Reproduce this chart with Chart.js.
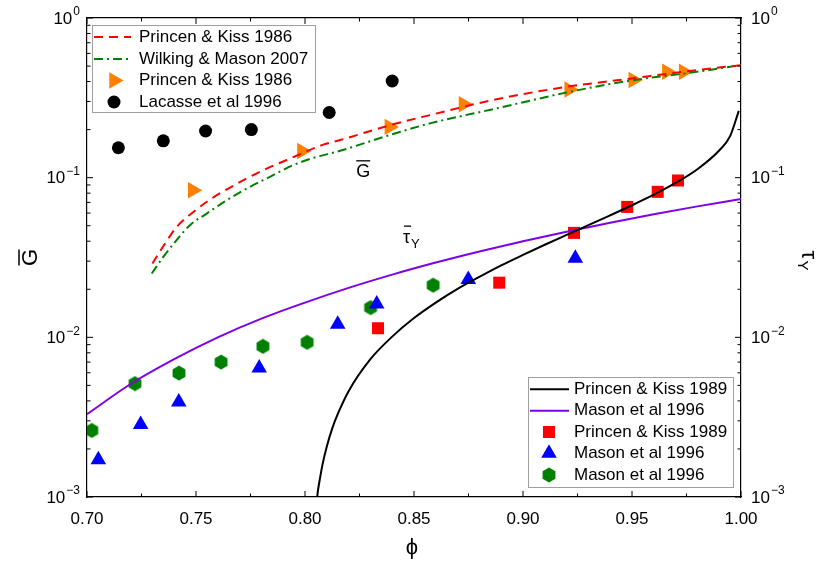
<!DOCTYPE html>
<html>
<head>
<meta charset="utf-8">
<title>G and tau_y vs phi</title>
<script src="https://cdn.jsdelivr.net/npm/chart.js@4"></script>
<style>
  html, body { margin: 0; padding: 0; background: #fff; }
</style>
</head>
<body>
<canvas id="chart" width="817" height="564"></canvas>
<script>
const FONT = '"Liberation Sans", Arial, sans-serif';

// theory curves, modulus G
const pk86Phi = [0.7300, 0.7358, 0.7411, 0.7488, 0.7572, 0.7648, 0.7733, 0.7824, 0.7916, 0.8084, 0.8161, 0.8400, 0.8573, 0.8879, 0.9185, 0.9491, 0.9797, 1.0];
const pk86G   = [0.0290, 0.0387, 0.0491, 0.0610, 0.0741, 0.0855, 0.0989, 0.1140, 0.1290, 0.1610, 0.1720, 0.2150, 0.2465, 0.3100, 0.3680, 0.4170, 0.4720, 0.507];
const wm07Phi = [0.7297, 0.7350, 0.7411, 0.7472, 0.7549, 0.7641, 0.7733, 0.7839, 0.7946, 0.8054, 0.8145, 0.8400, 0.8573, 0.8879, 0.9215, 0.9491, 0.9797, 1.0];
const wm07G   = [0.0251, 0.0319, 0.0406, 0.0504, 0.0596, 0.0722, 0.0855, 0.1012, 0.1198, 0.1350, 0.1452, 0.1870, 0.2187, 0.2716, 0.3450, 0.4050, 0.4600, 0.507];

// theory curves, yield stress tau_y
const pk89Phi = [0.8054, 0.806, 0.807, 0.808, 0.810, 0.8125, 0.815, 0.820, 0.830, 0.840, 0.850, 0.860, 0.870, 0.880, 0.890, 0.900, 0.910, 0.920, 0.930, 0.940, 0.950, 0.960, 0.970, 0.980, 0.990, 0.995, 0.999];
const pk89Tau = [0.00095, 0.00111, 0.00134, 0.00159, 0.00207, 0.00269, 0.0033, 0.0046, 0.0073, 0.0101, 0.0132, 0.0165, 0.0201, 0.0239, 0.0282, 0.0328, 0.0380, 0.0438, 0.0504, 0.0581, 0.0672, 0.0783, 0.0927, 0.113, 0.148, 0.182, 0.262];
const mason96Phi = [0.70, 0.72, 0.74, 0.76, 0.78, 0.80, 0.82, 0.84, 0.86, 0.88, 0.90, 0.92, 0.94, 0.96, 0.98, 1.00];
const mason96Tau = [0.0033, 0.0051, 0.0073, 0.0100, 0.0131, 0.0165, 0.0204, 0.0247, 0.0294, 0.0345, 0.0400, 0.0459, 0.0522, 0.0590, 0.0661, 0.0736];

// measured G
const pk86DataPhi = [0.7485, 0.7986, 0.8387, 0.8727, 0.9212, 0.9506, 0.9660, 0.9737];
const pk86DataG   = [0.0835, 0.147, 0.208, 0.288, 0.357, 0.409, 0.461, 0.461];
const lacassePhi = [0.7144, 0.7350, 0.7544, 0.7754, 0.8111, 0.8400];
const lacasseG   = [0.154, 0.170, 0.196, 0.200, 0.256, 0.403];

// measured tau_y
const pk89DataPhi = [0.8335, 0.8891, 0.9234, 0.9478, 0.9618, 0.9711];
const pk89DataTau = [0.0114, 0.0220, 0.0451, 0.0656, 0.0815, 0.0960];
const masonTriPhi = [0.7052, 0.7246, 0.7421, 0.7790, 0.8150, 0.8329, 0.8749, 0.9240];
const masonTriTau = [0.00171, 0.00284, 0.00393, 0.00642, 0.01207, 0.01617, 0.0230, 0.0313];
const masonHexPhi = [0.7022, 0.7220, 0.7422, 0.7615, 0.7807, 0.8010, 0.8301, 0.8588];
const masonHexTau = [0.00261, 0.00513, 0.00597, 0.00700, 0.00878, 0.00930, 0.01536, 0.0212];

// ticks
const xMajor = [0.70, 0.75, 0.80, 0.85, 0.90, 0.95, 1.00];
const xMinor = [0.725, 0.775, 0.825, 0.875, 0.925, 0.975];
const yDecades = [0, -1, -2, -3];
const yMinorMult = [2, 3, 4, 5, 6, 7, 8, 9];

const pts = (xs, ys) => xs.map((x, i) => ({ x: x, y: ys[i] }));

// hexagon marker (no built-in style for it)
function hexagon(color) {
  const c = document.createElement('canvas');
  c.width = 16; c.height = 16;
  const g = c.getContext('2d');
  g.fillStyle = color;
  g.beginPath();
  for (let k = 0; k < 6; k++) {
    const a = Math.PI / 2 + k * Math.PI / 3;
    const px = 8 + 7.4 * Math.cos(a), py = 8 - 7.6 * Math.sin(a);
    if (k === 0) g.moveTo(px, py); else g.lineTo(px, py);
  }
  g.closePath();
  g.fill();
  return c;
}

function curve(label, data, color, dash) {
  return { label, data, showLine: true, borderColor: color, backgroundColor: color,
    borderWidth: 2, borderDash: dash, pointRadius: 0, pointHoverRadius: 0, clip: 0,
    cubicInterpolationMode: 'monotone' };
}
function marks(label, data, color, style, radius, rotation) {
  return { label, data, showLine: false, backgroundColor: color, borderColor: color,
    pointStyle: style, pointRadius: radius, pointHoverRadius: radius, pointRotation: rotation || 0,
    pointBorderWidth: 0 };
}

const datasets = [
  curve('Princen & Kiss 1986', pts(pk86Phi, pk86G), '#ff0000', [9, 6]),
  curve('Wilking & Mason 2007', pts(wm07Phi, wm07G), '#008000', [9, 4, 2, 4]),
  marks('Princen & Kiss 1986', pts(pk86DataPhi, pk86DataG), '#ff8000', 'triangle', 9.5, 90),
  marks('Lacasse et al 1996', pts(lacassePhi, lacasseG), '#000000', 'circle', 6.5),
  curve('Princen & Kiss 1989', pts(pk89Phi, pk89Tau), '#000000', []),
  curve('Mason et al 1996', pts(mason96Phi, mason96Tau), '#7f00e6', []),
  marks('Princen & Kiss 1989', pts(pk89DataPhi, pk89DataTau), '#ff0000', 'rect', 8.5),
  marks('Mason et al 1996', pts(masonTriPhi, masonTriTau), '#0000ff', 'triangle', 9),
  Object.assign(marks('Mason et al 1996', pts(masonHexPhi, masonHexTau), '#008000', hexagon('#008000'), 8), { clip: 0 })
];

const legends = [
  { items: [0, 1, 2, 3], box: [92, 25, 223, 87], rows: [37, 59, 80.5, 102], lx: [94, 131], mx: 114, tx: 139 },
  { items: [4, 5, 6, 7, 8], box: [528, 377, 205, 110], rows: [389.3, 410.7, 432, 453.3, 475], lx: [530, 569], mx: 549, tx: 574 }
];

function powLabel(ctx, exp, x, y, align) {
  const big = '17px ' + FONT, small = '12px ' + FONT;
  const es = exp === 0 ? '0' : '\u2212' + (-exp);
  ctx.font = big; const w1 = ctx.measureText('10').width;
  ctx.font = small; const w2 = ctx.measureText(es).width;
  const left = align === 'right' ? x - w1 - w2 - 1 : x;
  ctx.textAlign = 'left'; ctx.textBaseline = 'middle';
  ctx.font = big; ctx.fillText('10', left, y + 1);
  ctx.font = small; ctx.fillText(es, left + w1 + 1, y - 6);
}

function seg(ctx, x0, y0, x1, y1) {
  ctx.beginPath(); ctx.moveTo(x0, y0); ctx.lineTo(x1, y1); ctx.stroke();
}

const decor = {
  id: 'decor',
  afterDraw(chart) {
    const ctx = chart.ctx, a = chart.chartArea;
    const x = chart.scales.x, y = chart.scales.y;
    ctx.save();
    ctx.strokeStyle = '#000'; ctx.fillStyle = '#000'; ctx.lineWidth = 1;

    // inward ticks on all four sides
    xMajor.forEach(v => { const p = x.getPixelForValue(v); seg(ctx, p, a.bottom, p, a.bottom - 6); seg(ctx, p, a.top, p, a.top + 6); });
    xMinor.forEach(v => { const p = x.getPixelForValue(v); seg(ctx, p, a.bottom, p, a.bottom - 3.5); seg(ctx, p, a.top, p, a.top + 3.5); });
    yDecades.forEach(e => {
      const p = y.getPixelForValue(Math.pow(10, e));
      seg(ctx, a.left, p, a.left + 6, p); seg(ctx, a.right, p, a.right - 6, p);
      if (e > -3) yMinorMult.forEach(m => {
        const q = y.getPixelForValue(m * Math.pow(10, e - 1));
        seg(ctx, a.left, q, a.left + 3.5, q); seg(ctx, a.right, q, a.right - 3.5, q);
      });
    });

    // tick labels
    ctx.font = '17px ' + FONT; ctx.textAlign = 'center'; ctx.textBaseline = 'middle';
    xMajor.forEach(v => ctx.fillText(v.toFixed(2), x.getPixelForValue(v), a.bottom + 22));
    yDecades.forEach(e => {
      const p = y.getPixelForValue(Math.pow(10, e));
      powLabel(ctx, e, a.left - 7, p, 'right');
      powLabel(ctx, e, a.right + 10, p, 'left');
    });

    // axis titles
    ctx.font = '22px ' + FONT; ctx.textAlign = 'center'; ctx.textBaseline = 'middle';
    ctx.fillText('\u03D5', (a.left + a.right) / 2 - 2, 548);
    ctx.save();
    ctx.translate(31, (a.top + a.bottom) / 2);
    ctx.rotate(-Math.PI / 2);
    ctx.fillText('G', 0, 0);
    ctx.lineWidth = 1.5; seg(ctx, -8, -12, 8, -12);
    ctx.restore();
    ctx.save();
    ctx.translate(806, (a.top + a.bottom) / 2 + 4);
    ctx.rotate(Math.PI / 2);
    ctx.textAlign = 'left';
    ctx.fillText('\u03C4', -11, -2);
    ctx.lineWidth = 1.5; seg(ctx, -10, -13, -2, -13);
    ctx.font = '15px ' + FONT; ctx.fillText('Y', -1, 4);
    ctx.restore();

    // curve annotations
    ctx.font = '18px ' + FONT; ctx.textAlign = 'center';
    const gx = x.getPixelForValue(0.8267), gy = y.getPixelForValue(0.1088);
    ctx.fillText('G', gx, gy);
    ctx.lineWidth = 1.3; seg(ctx, gx - 7, gy - 11, gx + 7, gy - 11);
    const tx = x.getPixelForValue(0.8482), ty = y.getPixelForValue(0.0418);
    ctx.textAlign = 'left';
    ctx.fillText('\u03C4', tx - 7, ty);
    seg(ctx, tx - 6, ty - 12, tx + 1, ty - 12);
    ctx.font = '13px ' + FONT; ctx.fillText('Y', tx + 1, ty + 6);

    // legends
    legends.forEach(L => {
      const [bx, by, bw, bh] = L.box;
      ctx.fillStyle = '#fff'; ctx.fillRect(bx, by, bw, bh);
      ctx.strokeStyle = '#a0a0a0'; ctx.lineWidth = 1; ctx.setLineDash([]);
      ctx.strokeRect(bx + 0.5, by + 0.5, bw, bh);
      L.items.forEach((di, r) => {
        const ds = chart.data.datasets[di], ry = L.rows[r];
        if (ds.showLine) {
          ctx.strokeStyle = ds.borderColor; ctx.lineWidth = ds.borderWidth;
          ctx.setLineDash(ds.borderDash || []);
          seg(ctx, L.lx[0], ry, L.lx[1], ry);
          ctx.setLineDash([]);
        } else {
          ctx.fillStyle = ds.backgroundColor; ctx.strokeStyle = ds.borderColor;
          Chart.helpers.drawPoint(ctx, { pointStyle: ds.pointStyle, rotation: ds.pointRotation, radius: ds.pointRadius, borderWidth: 0 }, L.mx, ry);
        }
        ctx.fillStyle = '#000'; ctx.font = '17px ' + FONT;
        ctx.textAlign = 'left'; ctx.textBaseline = 'middle';
        ctx.fillText(ds.label, L.tx, ry);
      });
    });
    ctx.restore();
  }
};

const axisOpts = (type, min, max, position) => ({
  type, min, max, position, display: true,
  grid: { display: true, drawOnChartArea: false, drawTicks: false },
  border: { display: true, color: '#000', width: 1.2 },
  ticks: { display: false }
});

new Chart(document.getElementById('chart'), {
  type: 'scatter',
  data: { datasets },
  options: {
    responsive: false,
    animation: false,
    devicePixelRatio: 1,
    layout: { padding: { left: 87, right: 76, top: 18, bottom: 67 } },
    plugins: { legend: { display: false }, tooltip: { enabled: false } },
    scales: {
      x: axisOpts('linear', 0.7, 1.0, 'bottom'),
      x2: axisOpts('linear', 0.7, 1.0, 'top'),
      y: axisOpts('logarithmic', 0.001, 1, 'left'),
      y2: axisOpts('logarithmic', 0.001, 1, 'right')
    }
  },
  plugins: [decor]
});
</script>
</body>
</html>
